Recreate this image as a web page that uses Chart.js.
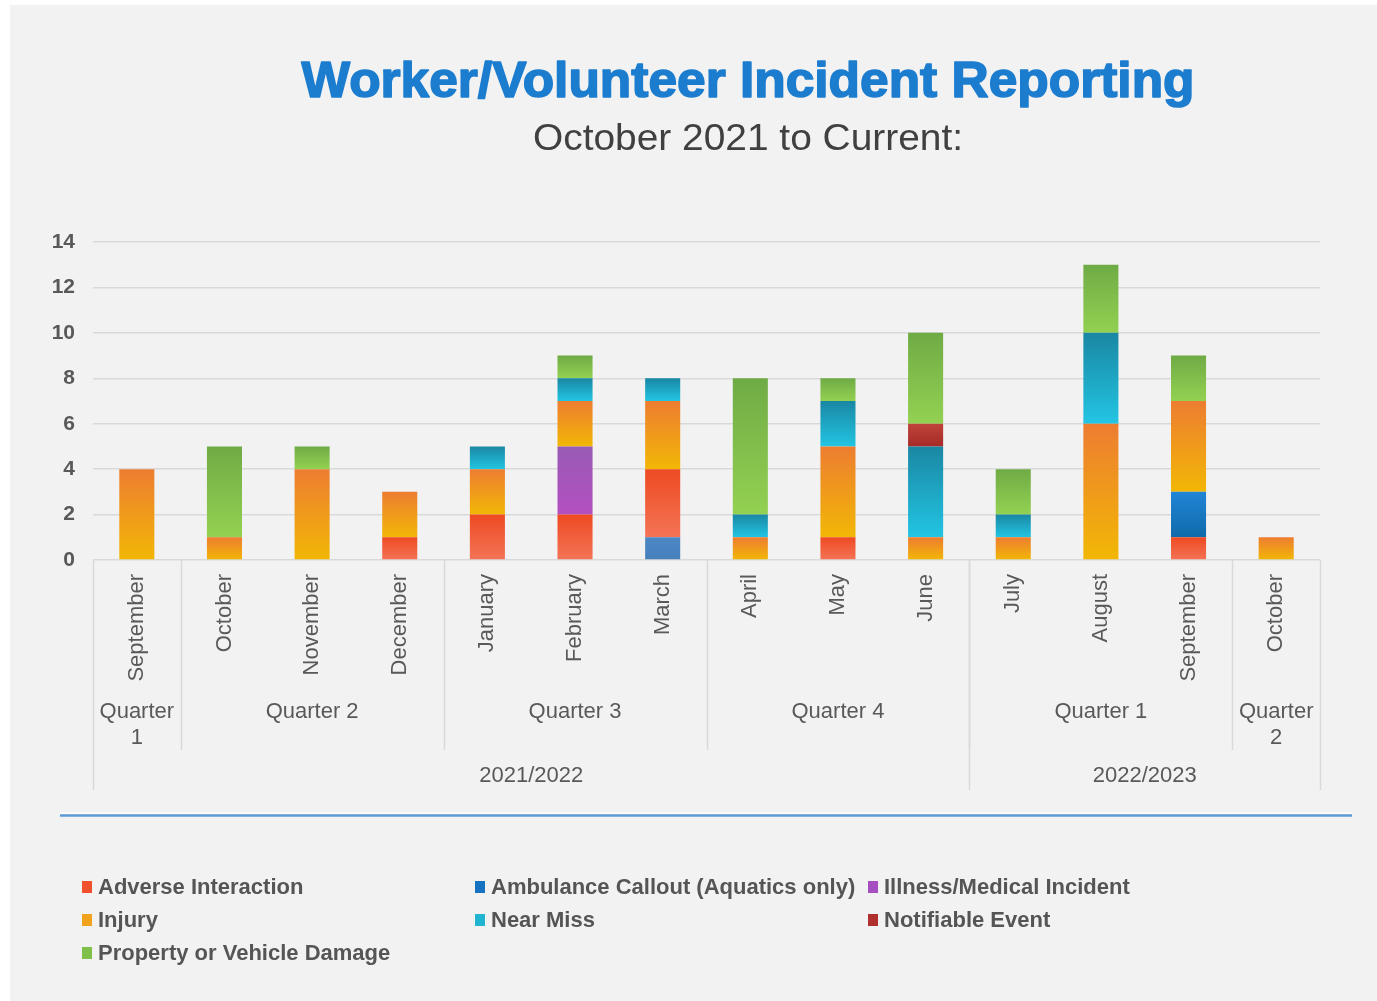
<!DOCTYPE html>
<html>
<head>
<meta charset="utf-8">
<title>Worker/Volunteer Incident Reporting</title>
<script src="https://cdn.jsdelivr.net/npm/chart.js@4.4.0/dist/chart.umd.min.js"></script>
<style>
  html, body { margin: 0; padding: 0; background: #fff; }
</style>
</head>
<body>
<canvas id="incidentChart" width="1377" height="1001"></canvas>
<script>
// Chart data
const months = ['September', 'October', 'November', 'December', 'January', 'February', 'March',
  'April', 'May', 'June', 'July', 'August', 'September', 'October'];
const quarterLabels = ['Quarter 1', 'Quarter 2', 'Quarter 3', 'Quarter 4', 'Quarter 1', 'Quarter 2'];
const quarterSpans = [1, 3, 3, 3, 3, 1];
const yearLabels = ['2021/2022', '2022/2023'];
const yearSpans = [10, 4];
const yTicks = [0, 2, 4, 6, 8, 10, 12, 14];

const ambulanceEarly = [0, 0, 0, 0, 0, 0, 1, 0, 0, 0, 0, 0, 0, 0];
const adverse = [0, 0, 0, 1, 2, 2, 3, 0, 1, 0, 0, 0, 1, 0];
const ambulance = [0, 0, 0, 0, 0, 0, 0, 0, 0, 0, 0, 0, 2, 0];
const illness = [0, 0, 0, 0, 0, 3, 0, 0, 0, 0, 0, 0, 0, 0];
const injury = [4, 1, 4, 2, 2, 2, 3, 1, 4, 1, 1, 6, 4, 1];
const nearMiss = [0, 0, 0, 0, 1, 1, 1, 1, 2, 4, 1, 4, 0, 0];
const notifiable = [0, 0, 0, 0, 0, 0, 0, 0, 0, 1, 0, 0, 0, 0];
const property = [0, 4, 1, 0, 0, 1, 0, 6, 1, 4, 2, 3, 2, 0];

const TEXT = '#595959';
const FONT = "'Liberation Sans', Arial, sans-serif";

// vertical gradient over each stacked segment
function segmentGradient(top, bottom) {
  return (ctx) => {
    const chart = ctx.chart;
    const y = chart.scales.y;
    if (!chart.chartArea || !y || ctx.dataIndex === undefined) return top;
    let start = 0;
    for (let d = 0; d < ctx.datasetIndex; d++) {
      start += chart.data.datasets[d].data[ctx.dataIndex] || 0;
    }
    const v = ctx.raw || 0;
    const y0 = y.getPixelForValue(start + v);
    const y1 = y.getPixelForValue(start);
    if (!isFinite(y0) || !isFinite(y1) || y0 === y1) return top;
    const g = chart.ctx.createLinearGradient(0, y0, 0, y1);
    g.addColorStop(0, top);
    g.addColorStop(1, bottom);
    return g;
  };
}

function series(label, data, top, bottom, swatch, hideInLegend) {
  return {
    label: label,
    data: data,
    backgroundColor: segmentGradient(top, bottom),
    swatch: swatch,
    hideInLegend: !!hideInLegend,
    borderWidth: 0,
    categoryPercentage: 0.8,
    barPercentage: 0.5
  };
}

// draws titles, the grouped category axis and the legend
const frame = {
  id: 'frame',
  beforeDraw(chart) {
    const c = chart.ctx;
    c.save();
    c.fillStyle = '#ffffff';
    c.fillRect(0, 0, chart.width, chart.height);
    c.fillStyle = '#f2f2f2';
    c.fillRect(10, 5, chart.width - 10, chart.height - 5);
    c.restore();
  },
  afterDraw(chart) {
    const c = chart.ctx;
    const x = chart.scales.x;
    const area = chart.chartArea;

    const fitText = (text, cx, y, width, stroke) => {
      const w = c.measureText(text).width;
      c.save();
      c.translate(cx, y);
      c.scale(width / w, 1);
      c.textAlign = 'center';
      c.fillText(text, 0, 0);
      if (stroke) c.strokeText(text, 0, 0);
      c.restore();
    };

    c.save();
    // titles
    c.textBaseline = 'alphabetic';
    c.font = 'bold 50px ' + FONT;
    c.fillStyle = '#1c7dcf';
    c.strokeStyle = '#1c7dcf';
    c.lineWidth = 1.6;
    c.lineJoin = 'round';
    fitText('Worker/Volunteer Incident Reporting', 748, 97, 893, true);
    c.font = '36px ' + FONT;
    c.fillStyle = '#404040';
    fitText('October 2021 to Current:', 748, 150, 430, false);

    // grouped category axis
    const edge = (i) => {
      if (i <= 0) return area.left;
      if (i >= months.length) return area.right;
      return (x.getPixelForValue(i - 1) + x.getPixelForValue(i)) / 2;
    };
    c.strokeStyle = '#d9d9d9';
    c.lineWidth = 1.5;
    const vline = (px, y2) => {
      c.beginPath();
      c.moveTo(Math.round(px) + 0.5, area.bottom);
      c.lineTo(Math.round(px) + 0.5, y2);
      c.stroke();
    };

    c.fillStyle = TEXT;
    c.font = '22px ' + FONT;
    c.textBaseline = 'middle';
    months.forEach((m, i) => {
      c.save();
      c.translate(x.getPixelForValue(i), 574);
      c.rotate(-Math.PI / 2);
      c.textAlign = 'right';
      c.fillText(m, 0, 0);
      c.restore();
    });

    let idx = 0;
    quarterLabels.forEach((q, k) => {
      const l = edge(idx), r = edge(idx + quarterSpans[k]);
      c.textAlign = 'center';
      const cx = (l + r) / 2;
      if (c.measureText(q).width > r - l - 4) {
        const parts = q.split(' ');
        c.fillText(parts[0], cx, 712);
        c.fillText(parts[1], cx, 738);
      } else {
        c.fillText(q, cx, 712);
      }
      if (idx > 0) vline(l, 750);
      idx += quarterSpans[k];
    });

    idx = 0;
    yearLabels.forEach((yl, k) => {
      const l = edge(idx), r = edge(idx + yearSpans[k]);
      c.textAlign = 'center';
      c.fillText(yl, (l + r) / 2, 776);
      vline(l, 790);
      idx += yearSpans[k];
    });
    vline(area.right, 790);

    // separator line above legend
    c.strokeStyle = '#ffffff';
    c.lineWidth = 1;
    c.beginPath();
    c.moveTo(60, 813);
    c.lineTo(1352, 813);
    c.stroke();
    c.strokeStyle = '#5b9bd5';
    c.lineWidth = 2.5;
    c.beginPath();
    c.moveTo(60, 815.5);
    c.lineTo(1352, 815.5);
    c.stroke();

    // legend
    const items = chart.data.datasets.filter(ds => !ds.hideInLegend);
    const colX = [82, 475, 868];
    const rowY = [887, 920, 953];
    c.font = 'bold 22px ' + FONT;
    c.textAlign = 'left';
    c.textBaseline = 'middle';
    items.forEach((ds, i) => {
      const lx = colX[i % 3];
      const ly = rowY[Math.floor(i / 3)];
      c.fillStyle = ds.swatch;
      c.fillRect(lx, ly - 6, 10, 12);
      c.fillStyle = '#555555';
      c.fillText(ds.label, lx + 16, ly + 1);
    });
    c.restore();
  }
};

new Chart(document.getElementById('incidentChart'), {
  type: 'bar',
  data: {
    labels: months,
    datasets: [
      series('Ambulance Callout', ambulanceEarly, '#4c88c5', '#4680bb', '#4a85c0', true),
      series('Adverse Interaction', adverse, '#ee4a22', '#f47456', '#f0512c'),
      series('Ambulance Callout (Aquatics only)', ambulance, '#2185d6', '#0f6aaa', '#1673c0'),
      series('Illness/Medical Incident', illness, '#985bb4', '#b44fc2', '#a54fc0'),
      series('Injury', injury, '#ed7d31', '#f2b705', '#f2a31c'),
      series('Near Miss', nearMiss, '#1a87a3', '#22c5e3', '#1fb5d0'),
      series('Notifiable Event', notifiable, '#c0433a', '#a52a28', '#b03030'),
      series('Property or Vehicle Damage', property, '#6fab45', '#93d152', '#7fc04a')
    ]
  },
  options: {
    responsive: false,
    animation: false,
    layout: { padding: { left: 10, right: 57, top: 242, bottom: 441 } },
    plugins: {
      legend: { display: false },
      title: { display: false },
      tooltip: { enabled: false }
    },
    scales: {
      x: {
        stacked: true,
        display: false
      },
      y: {
        stacked: true,
        min: 0,
        max: 14,
        afterFit(scale) { scale.width = 83; },
        afterBuildTicks(scale) { scale.ticks = yTicks.map(v => ({ value: v })); },
        border: { display: false },
        grid: { color: '#d9d9d9', lineWidth: 1.5, drawTicks: false },
        ticks: {
          padding: 18,
          color: TEXT,
          font: { family: FONT, size: 21, weight: 'bold' }
        }
      }
    }
  },
  plugins: [frame]
});
</script>
</body>
</html>
